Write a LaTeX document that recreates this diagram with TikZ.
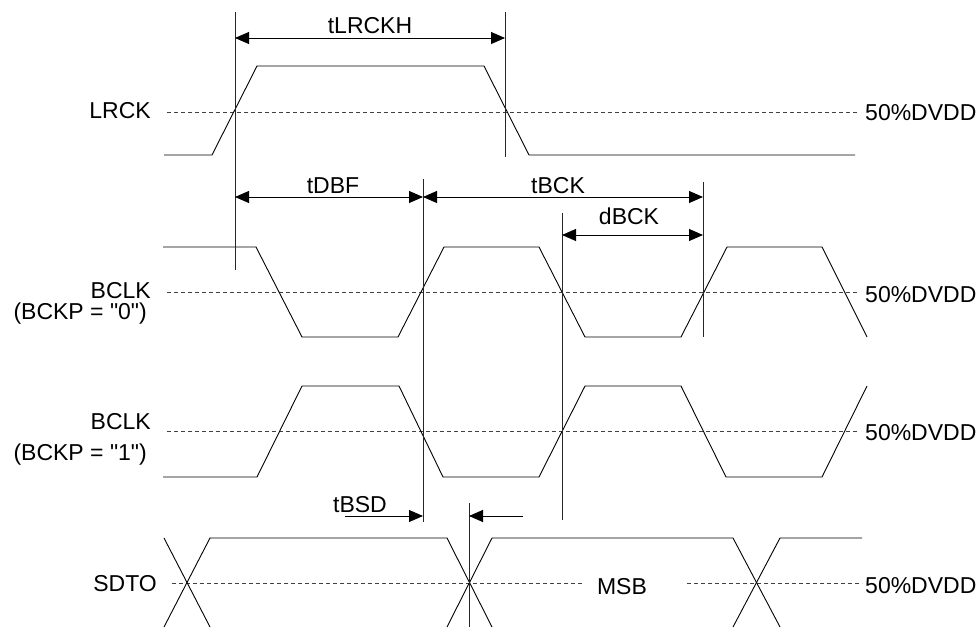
\documentclass[tikz,border=0pt]{standalone}
\usepackage{fontspec}
\setmainfont{Liberation Sans}[Ligatures=TeXOff]
\usetikzlibrary{arrows.meta}
\begin{document}
\begin{tikzpicture}[x=1pt,y=-1pt,
  sig/.style={line width=0.9pt,black},
  ref/.style={line width=0.8pt,black!75,dash pattern=on 4pt off 3pt},
  mark line/.style={line width=0.9pt,black!85},
  dim/.style={line width=0.9pt,{Triangle[length=14pt,width=12pt]}-{Triangle[length=14pt,width=12pt]}},
  dimr/.style={line width=0.9pt,-{Triangle[length=14pt,width=12pt]}},
  lbl/.style={inner sep=0pt,font=\fontsize{23}{27}\selectfont}]
\useasboundingbox (0,0) rectangle (979,628);

% reference (50%) lines
\draw[ref] (167,112) -- (858,112);
\draw[ref] (167,292) -- (858,292);
\draw[ref] (167,431) -- (858,431);
\draw[ref] (172,583) -- (583,583);
\draw[ref] (687,583) -- (862,583);

% LRCK
\draw[sig] (164,155) -- (212,155) -- (257,66) -- (484,66) -- (529,155) -- (855,155);
% BCLK (BCKP=0)
\draw[sig] (163,247) -- (256,247) -- (302,337) -- (398,337) -- (444,247) -- (539,247)
  -- (585,337) -- (681,337) -- (727,247) -- (822,247) -- (867,337);
% BCLK (BCKP=1)
\draw[sig] (163,477) -- (257,477) -- (302,386) -- (399,386) -- (443,477) -- (539,477)
  -- (585,386) -- (681,386) -- (726,477) -- (822,477) -- (867,386);
% SDTO
\draw[sig] (164,538) -- (210,627);
\draw[sig] (164,627) -- (210,538) -- (447,538) -- (492,627);
\draw[sig] (447,627) -- (492,538) -- (733,538) -- (780,627);
\draw[sig] (733,627) -- (780,538) -- (862,538);

% vertical marker lines
\coordinate (v1t) at (235,12);  \coordinate (v1b) at (235,270);
\coordinate (v2t) at (505,12);  \coordinate (v2b) at (505,157);
\coordinate (v3t) at (423,179); \coordinate (v3b) at (423,522);
\coordinate (v4t) at (703,182); \coordinate (v4b) at (703,337);
\coordinate (v5t) at (562,213); \coordinate (v5b) at (562,520);
\coordinate (v6t) at (469,503); \coordinate (v6b) at (469,627);
\draw[mark line] (v1t) -- (v1b);
\draw[mark line] (v2t) -- (v2b);
\draw[mark line] (v3t) -- (v3b);
\draw[mark line] (v4t) -- (v4b);
\draw[mark line] (v5t) -- (v5b);
\draw[mark line] (v6t) -- (v6b);

% dimension arrows
\coordinate (a1) at (235,38);  \coordinate (a2) at (505,38);
\coordinate (b1) at (235,197); \coordinate (b2) at (423,197); \coordinate (b3) at (703,197);
\coordinate (c1) at (562,235); \coordinate (c2) at (703,235);
\coordinate (d1) at (345,516); \coordinate (d2) at (423,516);
\coordinate (e1) at (523,516); \coordinate (e2) at (469,516);
\draw[dim] (a1) -- (a2);
\draw[dim] (b1) -- (b2);
\draw[dim] (b2) -- (b3);
\draw[dim] (c1) -- (c2);
\draw[dimr] (d1) -- (d2);
\draw[dimr] (e1) -- (e2);

% labels
\node[lbl,anchor=base] (tlrckh) at (370,34) {tLRCKH};
\node[lbl,anchor=base] (tdbf) at (333,194) {tDBF};
\node[lbl,anchor=base] (tbck) at (558,194) {tBCK};
\node[lbl,anchor=base] (dbck) at (629,225) {dBCK};
\node[lbl,anchor=base] (tbsd) at (360,512) {tBSD};
\node[lbl,anchor=base] (msb) at (622,594) {MSB};

\node[lbl,anchor=base east] (lrck) at (151,119) {LRCK};
\node[lbl,anchor=base east] (bclk0) at (151,298) {BCLK};
\node[lbl,anchor=base east] (bckp0) at (147,319) {(BCKP = "0")};
\node[lbl,anchor=base east] (bclk1) at (151,429) {BCLK};
\node[lbl,anchor=base east] (bckp1) at (147,460) {(BCKP = "1")};
\node[lbl,anchor=base east] (sdto) at (157,591) {SDTO};

\node[lbl,anchor=base west] (r1) at (865,121) {50\%DVDD};
\node[lbl,anchor=base west] (r2) at (865,302) {50\%DVDD};
\node[lbl,anchor=base west] (r3) at (865,440) {50\%DVDD};
\node[lbl,anchor=base west] (r4) at (865,593) {50\%DVDD};
\end{tikzpicture}
\end{document}
